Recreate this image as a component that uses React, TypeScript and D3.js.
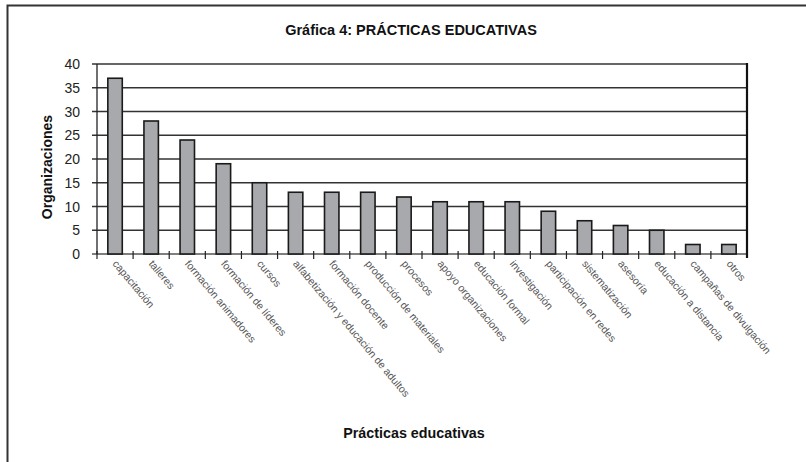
import { useEffect, useRef } from "react";
import * as d3 from "d3";

const categories = [
  "capacitación",
  "talleres",
  "formación animadores",
  "formación de líderes",
  "cursos",
  "alfabetización y educación de adultos",
  "formación docente",
  "producción de materiales",
  "procesos",
  "apoyo organizaciones",
  "educación formal",
  "investigación",
  "participación en redes",
  "sistematización",
  "asesoría",
  "educación a distancia",
  "campañas de divulgación",
  "otros",
];
const values = [37, 28, 24, 19, 15, 13, 13, 13, 12, 11, 11, 11, 9, 7, 6, 5, 2, 2];
const yTicks = [0, 5, 10, 15, 20, 25, 30, 35, 40];

const width = 806;
const height = 462;
const margin = { top: 64, right: 59, bottom: 208, left: 97 };
const font = "'Liberation Sans', Arial, sans-serif";

export default function App() {
  const ref = useRef<HTMLDivElement | null>(null);

  useEffect(() => {
    if (!ref.current) return;
    d3.select(ref.current).selectAll("svg").remove();

    const svg = d3
      .select(ref.current)
      .append("svg")
      .attr("width", width)
      .attr("height", height)
      .style("position", "absolute")
      .style("left", 0)
      .style("top", 0)
      .style("background", "white");

    // outer frame (left + top only visible)
    svg
      .append("path")
      .attr("d", `M7.5,${height}V5.5H${width}`)
      .attr("fill", "none")
      .attr("stroke", "#333")
      .attr("stroke-width", 2);

    const x = d3
      .scaleBand<string>()
      .domain(categories)
      .range([margin.left, width - margin.right])
      .paddingInner(0.6)
      .paddingOuter(0.3);
    const y = d3
      .scaleLinear()
      .domain([0, 40])
      .range([height - margin.bottom, margin.top]);

    const x0 = margin.left;
    const x1 = width - margin.right;
    const step = (x1 - x0) / categories.length;

    // gridlines
    svg
      .append("g")
      .selectAll("line")
      .data(yTicks)
      .enter()
      .append("line")
      .attr("x1", x0 - 5)
      .attr("x2", x1)
      .attr("y1", (d) => y(d))
      .attr("y2", (d) => y(d))
      .attr("stroke", (d) => (d === 0 ? "#555" : "#333"))
      .attr("stroke-width", 1.3);

    // y labels
    svg
      .append("g")
      .selectAll("text")
      .data(yTicks)
      .enter()
      .append("text")
      .attr("x", x0 - 17)
      .attr("y", (d) => y(d))
      .attr("dy", "0.36em")
      .attr("text-anchor", "end")
      .attr("font-family", font)
      .attr("font-size", 14)
      .attr("fill", "#222")
      .text((d) => d);

    // y axis line + right border
    svg
      .append("line")
      .attr("x1", x0)
      .attr("x2", x0)
      .attr("y1", y(40))
      .attr("y2", y(0))
      .attr("stroke", "#222")
      .attr("stroke-width", 1.3);
    svg
      .append("line")
      .attr("x1", x1)
      .attr("x2", x1)
      .attr("y1", y(40) - 1)
      .attr("y2", y(0) + 4)
      .attr("stroke", "#111")
      .attr("stroke-width", 2.2);

    // category tick marks
    svg
      .append("g")
      .selectAll("line")
      .data(d3.range(categories.length))
      .enter()
      .append("line")
      .attr("x1", (i) => x0 + i * step)
      .attr("x2", (i) => x0 + i * step)
      .attr("y1", y(0) - 3)
      .attr("y2", y(0) + 5)
      .attr("stroke", "#222")
      .attr("stroke-width", 1.2);

    // bars
    svg
      .append("g")
      .selectAll("rect")
      .data(values)
      .enter()
      .append("rect")
      .attr("x", (_, i) => x(categories[i])!)
      .attr("y", (d) => y(d))
      .attr("width", x.bandwidth())
      .attr("height", (d) => y(0) - y(d))
      .attr("fill", "#a7a9ac")
      .attr("stroke", "#1a1a1a")
      .attr("stroke-width", 1.6);

    // category labels
    svg
      .append("g")
      .selectAll("text")
      .data(categories)
      .enter()
      .append("text")
      .attr(
        "transform",
        (d) => `translate(${x(d)! + x.bandwidth() / 2 - 3},${y(0) + 10}) rotate(50)`
      )
      .attr("font-family", font)
      .attr("font-size", 10.5)
      .attr("fill", "#555")
      .text((d) => d);

    // titles
    svg
      .append("text")
      .attr("x", 411)
      .attr("y", 35)
      .attr("text-anchor", "middle")
      .attr("font-family", font)
      .attr("font-weight", "bold")
      .attr("font-size", 14.5)
      .attr("fill", "#111")
      .text("Gráfica 4: PRÁCTICAS EDUCATIVAS");

    svg
      .append("text")
      .attr("x", 414)
      .attr("y", 438)
      .attr("text-anchor", "middle")
      .attr("font-family", font)
      .attr("font-weight", "bold")
      .attr("font-size", 14.3)
      .attr("fill", "#111")
      .text("Prácticas educativas");

    svg
      .append("text")
      .attr("transform", `translate(52,${(y(0) + y(40)) / 2 + 8}) rotate(-90)`)
      .attr("text-anchor", "middle")
      .attr("font-family", font)
      .attr("font-weight", "bold")
      .attr("font-size", 14)
      .attr("fill", "#111")
      .text("Organizaciones");
  }, []);

  return <div ref={ref} />;
}
